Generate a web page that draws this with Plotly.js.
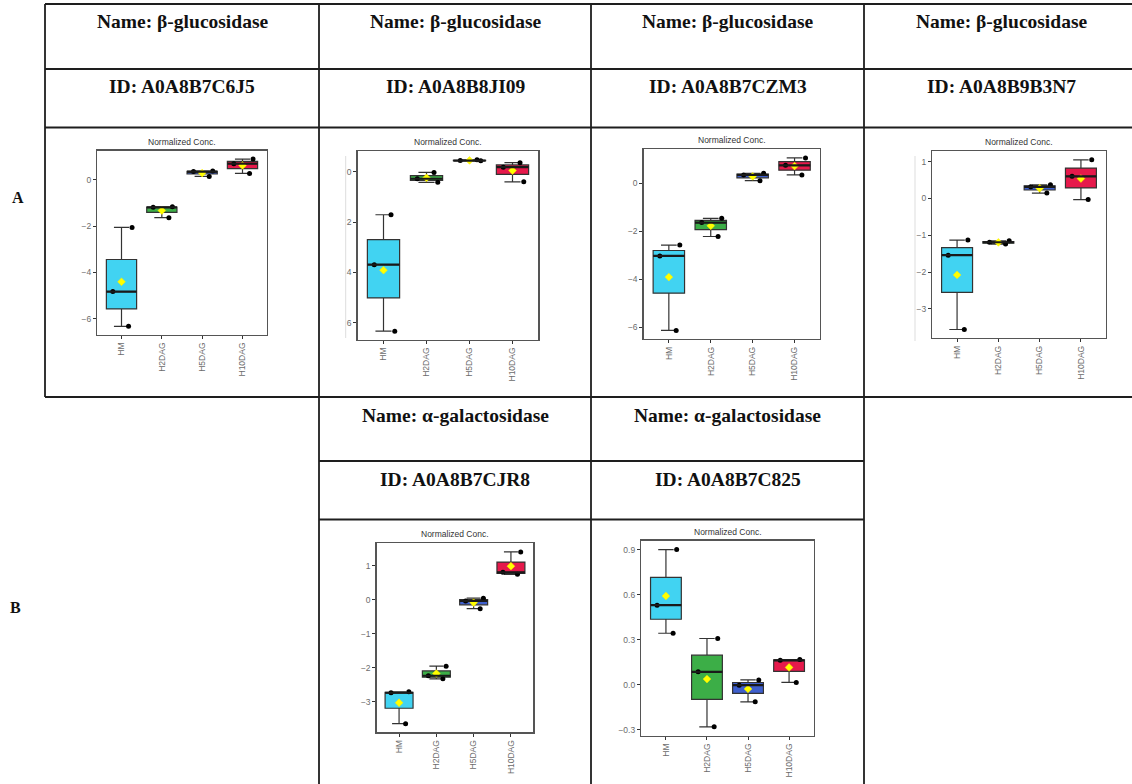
<!DOCTYPE html>
<html>
<head>
<meta charset="utf-8">
<script src="https://cdn.plot.ly/plotly-3.0.1.min.js"></script>
<style>
  html, body { margin: 0; padding: 0; background: #ffffff; }
  #chart { width: 1132px; height: 784px; }
</style>
</head>
<body>
<div id="chart"></div>
<script>
// Sample groups and their fill colours
const groups = ['HM', 'H2DAG', 'H5DAG', 'H10DAG'];
const groupColors = ['#41D3F2', '#3CAE47', '#3E5FCD', '#E6194B'];

// Protein annotations shown above each panel
const proteinNames = ['β-glucosidase', 'β-glucosidase', 'β-glucosidase', 'β-glucosidase', 'α-galactosidase', 'α-galactosidase'];
const proteinIds = ['A0A8B7C6J5', 'A0A8B8JI09', 'A0A8B7CZM3', 'A0A8B9B3N7', 'A0A8B7CJR8', 'A0A8B7C825'];
const rowLabels = ['A', 'B'];

// Normalized concentrations, three replicates per group (HM, H2DAG, H5DAG, H10DAG)
const A0A8B7C6J5 = [[-2.06, -4.83, -6.33], [-1.64, -1.19, -1.17], [0.37, 0.14, 0.35], [0.27, 0.69, 0.89]];
const A0A8B8JI09 = [[1.71, 3.69, 6.33], [0.28, 0.42, 0.03], [-0.47, -0.44, -0.43], [-0.36, -0.18, 0.40]];
const A0A8B7CZM3 = [[-6.14, -3.03, -2.58], [-1.46, -1.64, -2.22], [0.35, 0.11, 0.42], [1.06, 0.75, 0.35]];
const A0A8B9B3N7 = [[-1.13, -1.54, -3.56], [-1.24, -1.19, -1.15], [0.145, 0.315, 0.37], [-0.03, 0.60, 1.05]];
const A0A8B7CJR8 = [[-3.64, -2.73, -2.70], [-1.95, -2.23, -2.32], [-0.26, 0.05, -0.03], [1.41, 0.75, 0.81]];
const A0A8B7C825 = [[0.902, 0.531, 0.344], [0.309, 0.087, -0.28], [0.033, -0.113, -0.002], [0.164, 0.169, 0.016]];

const panelData = [A0A8B7C6J5, A0A8B8JI09, A0A8B7CZM3, A0A8B9B3N7, A0A8B7CJR8, A0A8B7C825];

// Page geometry (pixels)
const W = 1132, H = 784;
const px = x => x / W;
const py = y => 1 - y / H;

// Plot frame of each panel [left, top, right, bottom], tick step, axis direction
const panels = [
  { frame: [97.3, 150.7, 266.7, 334.7], dtick: 2, reversed: false, fmt: '' },
  { frame: [357.7, 151.3, 538.3, 339.7], dtick: 2, reversed: true, fmt: '' },
  { frame: [643.7, 149.3, 819.7, 339.0], dtick: 2, reversed: false, fmt: '' },
  { frame: [932.3, 151.3, 1105.7, 338.0], dtick: 1, reversed: false, fmt: '' },
  { frame: [376.7, 543.3, 533.3, 732.3], dtick: 1, reversed: false, fmt: '' },
  { frame: [641.3, 540.7, 813.7, 735.7], dtick: 0.3, reversed: false, fmt: '.1f' }
];

// Table cells: header text centres
const headerCells = [
  { cx: 182, nameY: 22, idY: 87 },
  { cx: 455, nameY: 22, idY: 87 },
  { cx: 727.5, nameY: 22, idY: 87 },
  { cx: 1001, nameY: 22, idY: 87 },
  { cx: 455, nameY: 415, idY: 479 },
  { cx: 727.5, nameY: 415, idY: 479 }
];

const mean = a => a.reduce((s, v) => s + v, 0) / a.length;
const median = a => { const s = [...a].sort((p, q) => p - q); const m = Math.floor(s.length / 2); return s.length % 2 ? s[m] : (s[m - 1] + s[m]) / 2; };

const traces = [];
const shapes = [];
const annotations = [];
const layout = {
  width: W, height: H,
  margin: { l: 0, r: 0, t: 0, b: 0 },
  paper_bgcolor: '#ffffff',
  plot_bgcolor: '#ffffff',
  showlegend: false,
  boxmode: 'overlay',
  font: { family: 'Liberation Sans, Arial, sans-serif', color: '#333333' }
};

const headFont = { family: 'Liberation Serif, Times New Roman, serif', size: 19.5, color: '#111111' };

panels.forEach((p, k) => {
  const n = k + 1;
  const xa = n === 1 ? 'x' : 'x' + n;
  const ya = n === 1 ? 'y' : 'y' + n;
  const data = panelData[k];
  const all = data.flat();
  const lo = Math.min(...all), hi = Math.max(...all);
  const pad = 0.05 * (hi - lo);
  const range = p.reversed ? [hi + pad, lo - pad] : [lo - pad, hi + pad];
  const [l, t, r, b] = p.frame;

  layout[n === 1 ? 'xaxis' : 'xaxis' + n] = {
    domain: [px(l), px(r)], anchor: ya,
    type: 'category', categoryorder: 'array', categoryarray: groups,
    range: [-0.6, 3.6],
    tickangle: -90,
    showline: true, mirror: true, linecolor: '#555555', linewidth: 1.4,
    ticks: 'outside', ticklen: 3, tickwidth: 1, tickcolor: '#333333',
    tickfont: { family: 'Liberation Sans, Arial, sans-serif', size: 8.5, color: '#6b6b6b' },
    showgrid: false, zeroline: false, fixedrange: true
  };
  layout[n === 1 ? 'yaxis' : 'yaxis' + n] = {
    domain: [py(b), py(t)], anchor: xa,
    range: range, dtick: p.dtick, tick0: 0,
    tickformat: p.fmt,
    showline: true, mirror: true, linecolor: '#555555', linewidth: 1.4,
    ticks: 'outside', ticklen: 3, tickwidth: 1, tickcolor: '#333333',
    tickfont: { family: 'Liberation Sans, Arial, sans-serif', size: 8.5, color: '#6b6b6b' },
    showgrid: false, zeroline: false, fixedrange: true
  };

  // boxes with jittered replicate points
  groups.forEach((g, i) => {
    traces.push({
      type: 'box', xaxis: xa, yaxis: ya,
      x: data[i].map(() => g), y: data[i],
      name: g,
      quartilemethod: 'inclusive',
      boxpoints: 'all', jitter: 0.9, pointpos: 0,
      width: 0.75,
      fillcolor: groupColors[i],
      line: { color: '#333333', width: 1.2 },
      marker: { color: '#000000', size: 5 },
      hoverinfo: 'y'
    });
    // thicker median bar
    shapes.push({
      type: 'line', xref: xa, yref: ya,
      x0: i - 0.375, x1: i + 0.375,
      y0: median(data[i]), y1: median(data[i]),
      line: { color: '#1a1a1a', width: 2.2 },
      layer: 'above'
    });
  });

  // group means
  traces.push({
    type: 'scatter', mode: 'markers', xaxis: xa, yaxis: ya,
    x: groups, y: data.map(mean),
    marker: { color: '#FFFF00', size: 6, symbol: 'diamond', line: { color: '#FFEA00', width: 0.5 } },
    hoverinfo: 'y'
  });

  annotations.push({
    text: 'Normalized Conc.', showarrow: false,
    xref: xa + ' domain', yref: ya + ' domain', x: 0.5, y: 1,
    xanchor: 'center', yanchor: 'bottom', yshift: 2,
    font: { family: 'Liberation Sans, Arial, sans-serif', size: 8.5, color: '#333333' }
  });

  // header cells
  const c = headerCells[k];
  annotations.push({
    text: '<b>Name: ' + proteinNames[k] + '</b>', showarrow: false,
    xref: 'paper', yref: 'paper', x: px(c.cx), y: py(c.nameY),
    xanchor: 'center', yanchor: 'middle', font: headFont
  });
  annotations.push({
    text: '<b>ID: ' + proteinIds[k] + '</b>', showarrow: false,
    xref: 'paper', yref: 'paper', x: px(c.cx), y: py(c.idY),
    xanchor: 'center', yanchor: 'middle', font: headFont
  });
});

// row labels
[[18, 198], [15, 607]].forEach(([x, y], i) => {
  annotations.push({
    text: '<b>' + rowLabels[i] + '</b>', showarrow: false,
    xref: 'paper', yref: 'paper', x: px(x), y: py(y),
    xanchor: 'center', yanchor: 'middle',
    font: { family: 'Liberation Serif, Times New Roman, serif', size: 16, color: '#111111' }
  });
});

// table rules
const rule = (x0, y0, x1, y1) => shapes.push({
  type: 'line', xref: 'paper', yref: 'paper',
  x0: px(x0), y0: py(y0), x1: px(x1), y1: py(y1),
  line: { color: '#1e1e1e', width: 1.8 }, layer: 'below'
});
rule(45, 4, W, 4);
rule(45, 69, W, 69);
rule(45, 127.5, W, 127.5);
rule(45, 397, W, 397);
rule(45, 4, 45, 397);
rule(319, 4, 319, H);
rule(591, 4, 591, H);
rule(864, 4, 864, H);
rule(319, 461, 864, 461);
rule(319, 519.5, 864, 519.5);

// faint edge lines left of two panels
const faint = (x, y0, y1) => shapes.push({
  type: 'line', xref: 'paper', yref: 'paper',
  x0: px(x), x1: px(x), y0: py(y0), y1: py(y1),
  line: { color: '#dddddd', width: 1 }, layer: 'below'
});
faint(345.7, 156, 338);
faint(915, 156, 341);

layout.shapes = shapes;
layout.annotations = annotations;

Plotly.newPlot('chart', traces, layout, { displayModeBar: false, staticPlot: true });
</script>
</body>
</html>
